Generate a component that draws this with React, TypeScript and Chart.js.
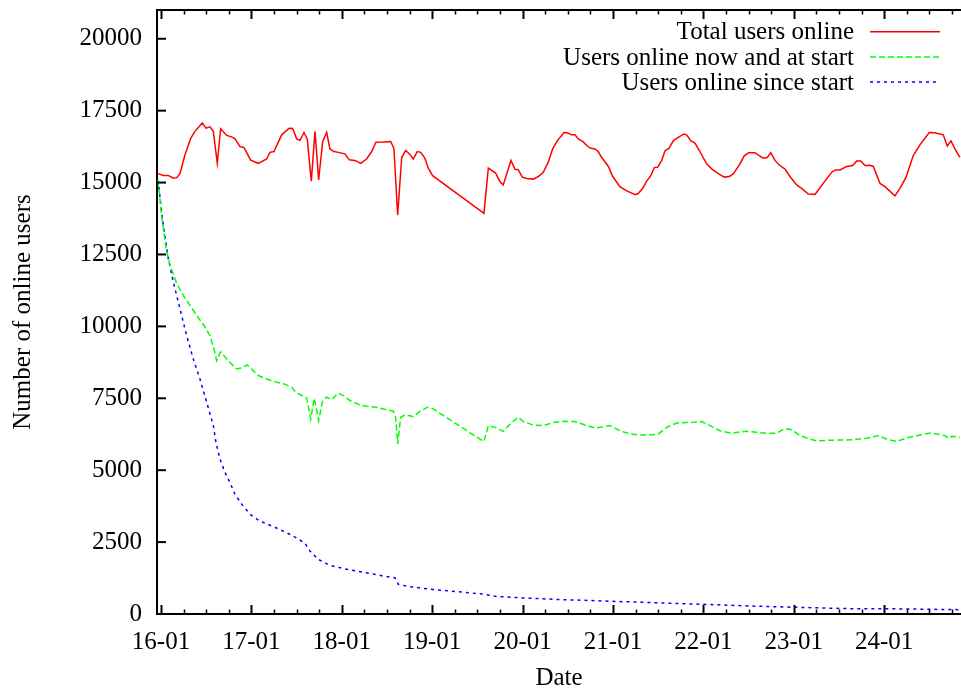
import React, { useEffect, useRef } from "react";
import { Chart, registerables } from "chart.js";

Chart.register(...registerables);

// ---- data (x = day of January, fractional) ----
const totalDays = [15.967, 16.025, 16.081, 16.136, 16.174, 16.21, 16.265, 16.329, 16.376, 16.457, 16.498, 16.542, 16.579, 16.623, 16.66, 16.727, 16.782, 16.819, 16.874, 16.918, 16.992, 17.076, 17.169, 17.206, 17.25, 17.335, 17.419, 17.457, 17.501, 17.538, 17.582, 17.618, 17.663, 17.704, 17.744, 17.789, 17.833, 17.869, 17.914, 17.961, 18.035, 18.083, 18.146, 18.209, 18.275, 18.331, 18.378, 18.459, 18.541, 18.577, 18.618, 18.663, 18.707, 18.754, 18.791, 18.835, 18.873, 18.92, 18.957, 19.005, 19.573, 19.621, 19.702, 19.75, 19.786, 19.872, 19.916, 19.952, 19.997, 20.045, 20.119, 20.174, 20.229, 20.284, 20.333, 20.384, 20.458, 20.494, 20.543, 20.58, 20.616, 20.665, 20.716, 20.753, 20.801, 20.837, 20.875, 20.948, 20.997, 21.077, 21.152, 21.247, 21.28, 21.329, 21.373, 21.417, 21.457, 21.494, 21.539, 21.575, 21.619, 21.667, 21.722, 21.785, 21.815, 21.86, 21.907, 21.962, 22.036, 22.098, 22.176, 22.231, 22.286, 22.331, 22.405, 22.452, 22.501, 22.571, 22.618, 22.663, 22.707, 22.745, 22.792, 22.84, 22.903, 22.958, 23.032, 23.087, 23.16, 23.235, 23.29, 23.345, 23.426, 23.467, 23.511, 23.585, 23.652, 23.696, 23.74, 23.788, 23.843, 23.88, 23.954, 24.009, 24.119, 24.175, 24.241, 24.322, 24.396, 24.499, 24.562, 24.654, 24.698, 24.739, 24.783, 24.838];
const totalUsers = [15310, 15250, 15250, 15150, 15170, 15310, 15960, 16540, 16780, 17070, 16890, 16940, 16780, 15670, 16870, 16640, 16590, 16520, 16250, 16220, 15780, 15670, 15820, 16050, 16080, 16660, 16890, 16880, 16520, 16470, 16740, 16520, 15050, 16780, 15090, 16430, 16750, 16170, 16080, 16050, 16000, 15790, 15770, 15670, 15820, 16080, 16400, 16410, 16430, 16190, 13870, 15870, 16120, 15980, 15820, 16080, 16050, 15840, 15500, 15240, 13930, 15500, 15330, 15030, 14920, 15770, 15460, 15450, 15190, 15140, 15120, 15210, 15360, 15710, 16170, 16450, 16740, 16730, 16660, 16660, 16520, 16430, 16270, 16190, 16170, 16080, 15870, 15570, 15210, 14860, 14710, 14580, 14620, 14800, 15050, 15230, 15520, 15530, 15770, 16100, 16190, 16450, 16570, 16690, 16660, 16460, 16370, 16080, 15650, 15460, 15290, 15190, 15210, 15300, 15650, 15930, 16040, 16040, 15940, 15850, 15870, 16040, 15770, 15610, 15470, 15210, 14920, 14800, 14600, 14590, 14820, 15050, 15380, 15440, 15440, 15560, 15590, 15750, 15750, 15590, 15600, 15560, 14970, 14860, 14540, 14800, 15180, 15940, 16310, 16740, 16730, 16660, 16270, 16450, 16170, 15880];

const nowAndStartDays = [15.967, 16.008, 16.055, 16.1, 16.174, 16.247, 16.321, 16.395, 16.476, 16.542, 16.586, 16.616, 16.66, 16.744, 16.837, 16.893, 16.955, 17.021, 17.076, 17.169, 17.28, 17.372, 17.446, 17.501, 17.567, 17.612, 17.656, 17.696, 17.744, 17.789, 17.833, 17.888, 17.961, 18.017, 18.091, 18.201, 18.275, 18.386, 18.497, 18.57, 18.596, 18.618, 18.652, 18.699, 18.754, 18.791, 18.865, 18.95, 19.012, 19.529, 19.573, 19.621, 19.695, 19.787, 19.879, 19.952, 20.008, 20.118, 20.229, 20.34, 20.45, 20.58, 20.69, 20.801, 20.864, 20.967, 21.077, 21.188, 21.299, 21.409, 21.501, 21.594, 21.705, 21.852, 21.981, 22.073, 22.184, 22.294, 22.386, 22.479, 22.59, 22.7, 22.811, 22.903, 22.977, 23.069, 23.179, 23.254, 23.401, 23.548, 23.658, 23.806, 23.935, 24.028, 24.138, 24.249, 24.396, 24.507, 24.581, 24.673, 24.71, 24.747, 24.838];
const nowAndStartUsers = [15090, 13810, 12730, 12130, 11490, 11080, 10730, 10380, 10030, 9680, 9220, 8810, 9110, 8810, 8520, 8560, 8660, 8460, 8290, 8170, 8060, 7990, 7880, 7680, 7590, 7510, 6780, 7500, 6720, 7420, 7540, 7450, 7680, 7590, 7420, 7270, 7220, 7190, 7100, 7050, 6840, 5910, 6840, 6920, 6890, 6860, 7050, 7190, 7130, 6080, 6000, 6550, 6490, 6350, 6660, 6840, 6690, 6570, 6550, 6660, 6700, 6690, 6570, 6470, 6490, 6550, 6370, 6260, 6220, 6220, 6260, 6490, 6640, 6660, 6690, 6550, 6370, 6290, 6320, 6350, 6320, 6280, 6290, 6450, 6410, 6200, 6080, 6020, 6040, 6050, 6060, 6110, 6200, 6080, 6000, 6120, 6220, 6290, 6260, 6200, 6110, 6180, 6140];

const sinceStartDays = [15.967, 16.025, 16.081, 16.136, 16.21, 16.284, 16.357, 16.431, 16.506, 16.579, 16.608, 16.653, 16.708, 16.763, 16.819, 16.893, 16.985, 17.095, 17.242, 17.353, 17.464, 17.593, 17.648, 17.74, 17.869, 18.017, 18.165, 18.312, 18.459, 18.588, 18.625, 18.754, 18.902, 19.005, 19.573, 19.714, 20.0, 20.4, 21.0, 21.5, 22.0, 22.6, 23.0, 23.7, 24.0, 24.838];
const sinceStartUsers = [15090, 13520, 12360, 11550, 10610, 9680, 8870, 8170, 7360, 6550, 5970, 5380, 4920, 4570, 4160, 3820, 3470, 3230, 3040, 2880, 2710, 2460, 2190, 1900, 1690, 1580, 1490, 1410, 1320, 1260, 1030, 950, 890, 855, 690, 610, 560, 505, 440, 390, 335, 270, 235, 180, 185, 150];

const seriesLabels = ["Total users online", "Users online now and at start", "Users online since start"];
const dayTicks = [16, 17, 18, 19, 20, 21, 22, 23, 24];
const minorTicksPerDay = 4;
const monthLabel = "01";
const yTicks = [0, 2500, 5000, 7500, 10000, 12500, 15000, 17500, 20000];
const xRange = [15.956, 24.85];
const yRange = [0, 21000];
const xTitle = "Date";
const yTitle = "Number of online users";

const FONT = "'Liberation Serif', 'Times New Roman', serif";

const xTickValues: number[] = [];
dayTicks.forEach((d) => {
  for (let k = 0; k < minorTicksPerDay; k++) xTickValues.push(d + k / minorTicksPerDay);
});

const frameAndLegend = {
  id: "frameAndLegend",
  afterDraw(chart: any) {
    const { ctx, chartArea, scales } = chart;
    const { left, right, top, bottom } = chartArea;
    const x = scales.x;
    const y = scales.y;
    ctx.save();
    ctx.strokeStyle = "#000";
    // top border
    ctx.lineWidth = 2;
    ctx.beginPath();
    ctx.moveTo(left - 1, top);
    ctx.lineTo(right + 1, top);
    ctx.stroke();
    // x ticks (bottom + mirrored top)
    x.ticks.forEach((t: any) => {
      const px = Math.round(x.getPixelForValue(t.value)) + 0.5;
      const major = Math.abs(t.value - Math.round(t.value)) < 1e-6;
      const len = major ? 9 : 4.5;
      ctx.lineWidth = major ? 2 : 1.5;
      ctx.beginPath();
      ctx.moveTo(px, bottom);
      ctx.lineTo(px, bottom - len);
      ctx.moveTo(px, top);
      ctx.lineTo(px, top + len);
      ctx.stroke();
    });
    // y ticks
    ctx.lineWidth = 2;
    y.ticks.forEach((t: any) => {
      const py = y.getPixelForValue(t.value);
      ctx.beginPath();
      ctx.moveTo(left, py);
      ctx.lineTo(left + 9, py);
      ctx.stroke();
    });
    // legend
    const textRight = 854;
    const lineX0 = 870;
    const lineX1 = 940;
    const rowY0 = 31.7;
    const rowGap = 25.2;
    ctx.font = `25px ${FONT}`;
    ctx.textAlign = "right";
    ctx.textBaseline = "alphabetic";
    chart.data.datasets.forEach((ds: any, i: number) => {
      const ly = rowY0 + i * rowGap;
      ctx.fillStyle = "#000";
      ctx.fillText(ds.label, textRight, ly + 7.6);
      ctx.strokeStyle = ds.borderColor;
      ctx.lineWidth = ds.borderWidth;
      ctx.setLineDash(ds.borderDash || []);
      ctx.beginPath();
      ctx.moveTo(lineX0, ly);
      ctx.lineTo(lineX1, ly);
      ctx.stroke();
      ctx.setLineDash([]);
    });
    ctx.restore();
  },
};

export default function App() {
  const ref = useRef<HTMLCanvasElement | null>(null);

  useEffect(() => {
    if (!ref.current) return;
    const toPts = (xs: number[], ys: number[]) => xs.map((v, i) => ({ x: v, y: ys[i] }));
    const chart = new Chart(ref.current, {
      type: "line",
      data: {
        datasets: [
          {
            label: seriesLabels[0],
            data: toPts(totalDays, totalUsers),
            borderColor: "#ff0000",
            borderWidth: 1.5,
            pointRadius: 0,
            tension: 0,
            fill: false,
          },
          {
            label: seriesLabels[1],
            data: toPts(nowAndStartDays, nowAndStartUsers),
            borderColor: "#00ff00",
            borderWidth: 1.5,
            borderDash: [6, 3],
            pointRadius: 0,
            tension: 0,
            fill: false,
          },
          {
            label: seriesLabels[2],
            data: toPts(sinceStartDays, sinceStartUsers),
            borderColor: "#0000ff",
            borderWidth: 1.5,
            borderDash: [3, 4],
            pointRadius: 0,
            tension: 0,
            fill: false,
          },
        ],
      },
      options: {
        animation: false,
        responsive: false,
        maintainAspectRatio: false,
        devicePixelRatio: 1,
        layout: { padding: { top: 10, left: 0, right: 0, bottom: 0 } },
        plugins: {
          legend: { display: false },
          tooltip: { enabled: false },
        },
        scales: {
          x: {
            type: "linear",
            min: xRange[0],
            max: xRange[1],
            afterBuildTicks: (scale: any) => {
              scale.ticks = xTickValues.map((v) => ({ value: v }));
            },
            afterFit: (scale: any) => {
              scale.height = 78;
              scale.paddingLeft = 0;
              scale.paddingRight = 0;
            },
            grid: { display: true, drawOnChartArea: false, drawTicks: false },
            border: { display: true, color: "#000", width: 2 },
            ticks: {
              autoSkip: false,
              maxRotation: 0,
              minRotation: 0,
              padding: 13,
              color: "#000",
              font: { family: FONT, size: 25, lineHeight: 1.2 },
              callback: (value: any) => {
                const v = Number(value);
                if (Math.abs(v - Math.round(v)) > 1e-6) return "";
                return `${Math.round(v)}-${monthLabel}`;
              },
            },
            title: {
              display: true,
              text: xTitle,
              color: "#000",
              font: { family: FONT, size: 25, lineHeight: 1 },
              padding: { top: 0, bottom: 1.2 },
            },
          },
          y: {
            type: "linear",
            min: yRange[0],
            max: yRange[1],
            afterBuildTicks: (scale: any) => {
              scale.ticks = yTicks.map((v) => ({ value: v }));
            },
            afterFit: (scale: any) => {
              scale.width = 157;
              scale.paddingTop = 0;
              scale.paddingBottom = 0;
            },
            grid: { display: true, drawOnChartArea: false, drawTicks: false },
            border: { display: true, color: "#000", width: 2 },
            ticks: {
              padding: 15,
              color: "#000",
              font: { family: FONT, size: 25, lineHeight: 1.2 },
              callback: (value: any) => String(value),
            },
            title: {
              display: true,
              text: yTitle,
              color: "#000",
              font: { family: FONT, size: 25, lineHeight: 1 },
              padding: { top: 11.4, bottom: 0 },
            },
          },
        },
      },
      plugins: [frameAndLegend],
    });
    return () => chart.destroy();
  }, []);

  return (
    <canvas
      ref={ref}
      width={961}
      height={692}
      style={{ position: "absolute", left: 0, top: 0, width: 961, height: 692 }}
    />
  );
}
